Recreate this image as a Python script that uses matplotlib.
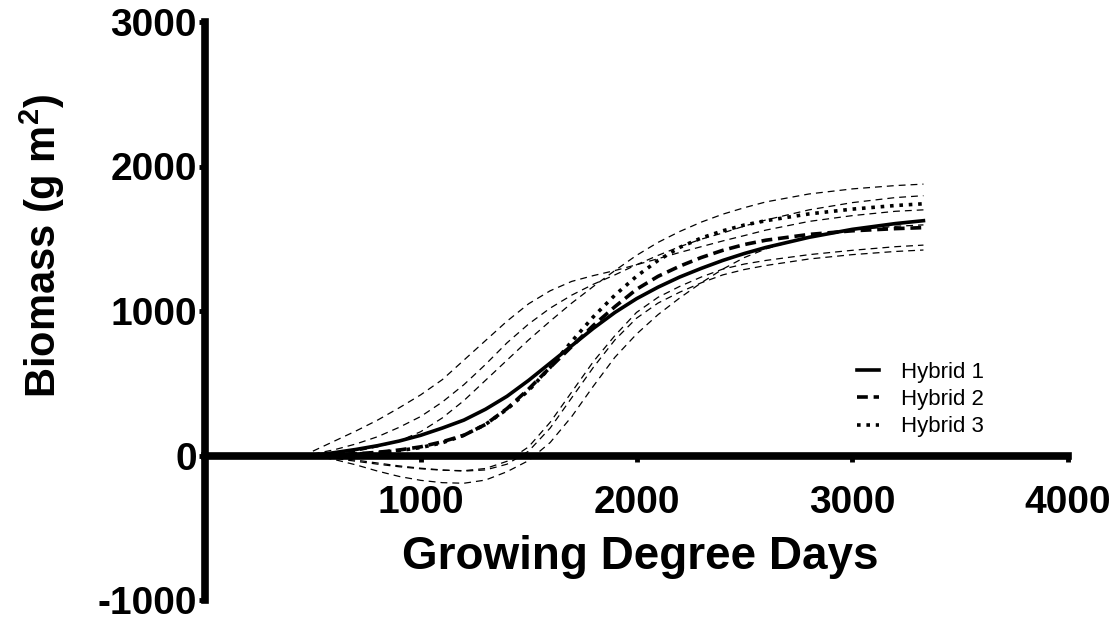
import matplotlib
matplotlib.use('Agg')
import matplotlib.pyplot as plt

plt.rcParams['font.family'] = ['Liberation Sans', 'DejaVu Sans']
plt.rcParams['font.weight'] = 'bold'
plt.rcParams['mathtext.fontset'] = 'custom'
plt.rcParams['mathtext.rm'] = 'Liberation Sans:bold'
plt.rcParams['mathtext.bf'] = 'Liberation Sans:bold'

# ---------------- data ----------------
gdd = [500, 600, 700, 800, 900, 1000, 1100, 1200, 1300, 1400, 1500, 1600, 1700,
       1800, 1900, 2000, 2100, 2200, 2300, 2400, 2500, 2600, 2800, 3000, 3200, 3330]

hybrid1 = [0, 20, 42, 68, 100, 140, 190, 245, 320, 410, 520, 640, 760,
           880, 990, 1085, 1165, 1235, 1295, 1350, 1398, 1440, 1510, 1565, 1605, 1625]
hybrid2 = [0, 5, 12, 22, 38, 60, 95, 140, 215, 325, 460, 610, 755,
           900, 1030, 1150, 1240, 1310, 1370, 1420, 1460, 1490, 1530, 1555, 1570, 1577]
hybrid3 = [0, 4, 10, 20, 34, 55, 88, 140, 215, 320, 450, 610, 790,
           960, 1110, 1240, 1350, 1440, 1505, 1555, 1595, 1625, 1672, 1705, 1730, 1742]

# confidence band lines (thin dashed)
band_u1 = [30, 100, 170, 245, 330, 420, 525, 660, 795, 930, 1050, 1140, 1205,
           1245, 1280, 1320, 1362, 1405, 1445, 1485, 1522, 1560, 1620, 1660, 1690, 1700]
band_u2 = [10, 40, 80, 130, 195, 270, 370, 490, 630, 780, 910, 1020, 1110,
           1185, 1250, 1320, 1385, 1445, 1497, 1540, 1588, 1630, 1700, 1750, 1785, 1798]
band_u3 = [0, 10, 30, 60, 100, 165, 260, 380, 520, 660, 800, 930, 1055,
           1170, 1280, 1385, 1475, 1550, 1615, 1670, 1715, 1755, 1810, 1845, 1868, 1878]
band_l1 = [0, -20, -40, -60, -78, -92, -102, -105, -90, -40, 60, 230, 440,
           650, 830, 990, 1095, 1170, 1235, 1290, 1325, 1350, 1390, 1420, 1445, 1456]
band_l2 = [0, -15, -32, -52, -72, -88, -100, -108, -100, -60, 30, 190, 400,
           610, 800, 950, 1055, 1130, 1195, 1250, 1287, 1315, 1360, 1390, 1412, 1422]
band_l3 = [0, -28, -65, -108, -145, -172, -188, -192, -170, -112, -35, 90, 270,
           480, 680, 840, 975, 1090, 1195, 1290, 1370, 1430, 1515, 1560, 1586, 1596]

series_labels = ['Hybrid 1', 'Hybrid 2', 'Hybrid 3']
x_ticks = [1000, 2000, 3000, 4000]
x_ticklabels = ['1000', '2000', '3000', '4000']
y_ticks = [-1000, 0, 1000, 2000, 3000]
y_ticklabels = ['-1000', '0', '1000', '2000', '3000']

# ---------------- figure ----------------
W, H = 1119, 620
fig = plt.figure(figsize=(W / 100, H / 100), dpi=100)
ax = fig.add_axes([205 / W, 1 - 600 / H, (1068 - 205) / W, (600 - 22) / H])
ax.set_xlim(0, 4000)
ax.set_ylim(-1000, 3000)

for band in [band_u1, band_u2, band_u3, band_l1, band_l2, band_l3]:
    ax.plot(gdd, band, color='black', lw=0.9, dashes=(5.5, 4), zorder=2)

l1, = ax.plot(gdd, hybrid1, color='black', lw=2.6, zorder=3)
l2, = ax.plot(gdd, hybrid2, color='black', lw=2.6, dashes=(3, 1.6), zorder=3)
l3, = ax.plot(gdd, hybrid3, color='black', lw=2.6, dashes=(1, 1.6), zorder=3)

for s in ['top', 'right']:
    ax.spines[s].set_visible(False)
ax.spines['bottom'].set_position(('data', 0))
ax.spines['left'].set_linewidth(5.5)
ax.spines['bottom'].set_linewidth(5.5)
ax.spines['left'].set_zorder(4)
ax.spines['bottom'].set_zorder(4)

ax.set_xticks(x_ticks)
ax.set_xticklabels(x_ticklabels)
ax.set_yticks(y_ticks)
ax.set_yticklabels(y_ticklabels)
ax.tick_params(axis='y', direction='out', length=4, width=3.5, pad=2, labelsize=28)
ax.tick_params(axis='x', direction='out', length=4, width=3.5, pad=17, labelsize=28)
for lbl in ax.get_xticklabels() + ax.get_yticklabels():
    lbl.set_fontweight('bold')

fig.text(42 / W, 1 - 246 / H, r'Biomass (g m$^{2}$)', rotation=90,
         ha='center', va='center', fontsize=30, fontweight='bold')
fig.text(640 / W, 1 - 557 / H, 'Growing Degree Days',
         ha='center', va='center', fontsize=33, fontweight='bold')

ax.legend([l1, l2, l3], series_labels, loc='upper left',
          bbox_to_anchor=(857 / W, 1 - 362 / H), bbox_transform=fig.transFigure,
          frameon=False, handlelength=1.0, handletextpad=1.0, labelspacing=0.28,
          borderpad=0, borderaxespad=0,
          prop={'family': 'Liberation Sans', 'weight': 'normal', 'size': 16})

fig.savefig('out.png', dpi=100)
